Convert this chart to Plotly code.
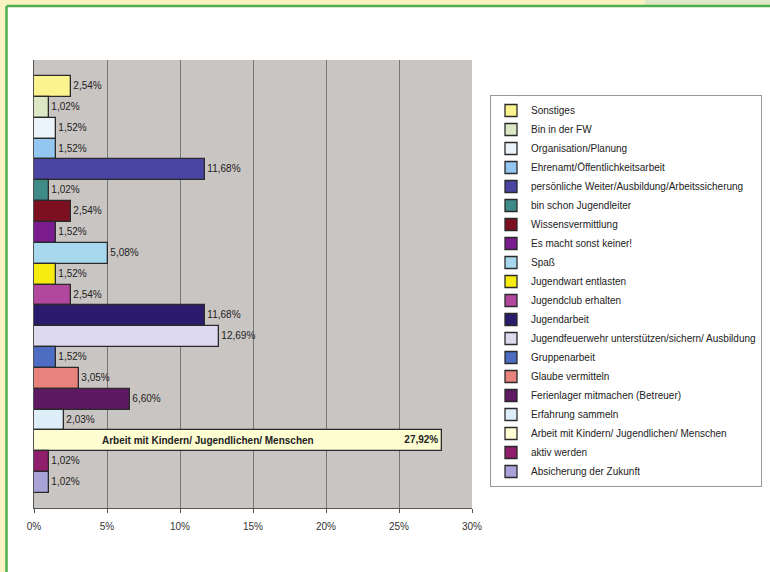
import plotly.graph_objects as go

categories = [
    "Sonstiges", "Bin in der FW", "Organisation/Planung",
    "Ehrenamt/Öffentlichkeitsarbeit",
    "persönliche Weiter/Ausbildung/Arbeitssicherung",
    "bin schon Jugendleiter", "Wissensvermittlung", "Es macht sonst keiner!",
    "Spaß", "Jugendwart entlasten", "Jugendclub erhalten", "Jugendarbeit",
    "Jugendfeuerwehr unterstützen/sichern/ Ausbildung", "Gruppenarbeit",
    "Glaube vermitteln", "Ferienlager mitmachen (Betreuer)", "Erfahrung sammeln",
    "Arbeit mit Kindern/ Jugendlichen/ Menschen", "aktiv werden",
    "Absicherung der Zukunft",
]
values = [2.54, 1.02, 1.52, 1.52, 11.68, 1.02, 2.54, 1.52, 5.08, 1.52,
          2.54, 11.68, 12.69, 1.52, 3.05, 6.60, 2.03, 27.92, 1.02, 1.02]
colors = ["#FBF48E", "#DCE8C4", "#EAF2FA", "#93C6F0", "#4A45A2", "#3F8B88",
          "#7C1020", "#7A1B8E", "#A8D8EE", "#F6EC12", "#B2479E", "#2B1B6C",
          "#DDDAF0", "#4E6CC2", "#E8827C", "#5D1A62", "#DEEEF9", "#FFFDD2",
          "#8F1E6C", "#A9A2D8"]
highlight = "Arbeit mit Kindern/ Jugendlichen/ Menschen"

W, H = 770, 572
L, R, T, B = 34, 472, 60, 508
FONT = "Liberation Sans, Arial, sans-serif"


def px(x):
    return (x - L) / (R - L)


def py(y):
    return (B - y) / (B - T)


n = len(categories)
fig = go.Figure()
for i, (cat, val, col) in enumerate(zip(categories, values, colors)):
    lab = f"{val:.2f}%".replace(".", ",")
    big = cat == highlight
    fig.add_trace(go.Bar(
        x=[val], y=[n - 1 - i], orientation="h", name=cat, width=1,
        marker=dict(color=col, line=dict(color="#2a2a2a", width=1.3)),
        text=[f"<b>{lab}</b>" if big else lab],
        textposition="inside" if big else "outside",
        insidetextanchor="end",
        textfont=dict(family=FONT, size=10, color="#222222"),
        cliponaxis=False, hoverinfo="skip",
    ))
    if big:
        fig.add_annotation(x=4.5, y=n - 1 - i, xref="x", yref="y",
                           text=f"<b>{cat}</b>", showarrow=False,
                           xanchor="left",
                           font=dict(family=FONT, size=10, color="#222222"))

shapes = [
    dict(type="rect", xref="paper", yref="paper", x0=px(0), x1=px(W),
         y0=py(5), y1=py(0), fillcolor="#FBF2C2", line_width=0, layer="above"),
    dict(type="rect", xref="paper", yref="paper", x0=px(645), x1=px(W),
         y0=py(5), y1=py(0), fillcolor="#DDE9C6", line_width=0, layer="above"),
    dict(type="rect", xref="paper", yref="paper", x0=px(0), x1=px(5.5),
         y0=py(H), y1=py(0), fillcolor="#FBF2C2", line_width=0, layer="above"),
    dict(type="line", xref="paper", yref="paper", x0=px(6.5), x1=px(W),
         y0=py(6), y1=py(6), line=dict(color="#4DAE4B", width=2.5)),
    dict(type="line", xref="paper", yref="paper", x0=px(6.5), x1=px(6.5),
         y0=py(H), y1=py(6), line=dict(color="#4DAE4B", width=2.5)),
]

fig.update_layout(
    width=W, height=H,
    margin=dict(l=L, r=W - R, t=T, b=H - B, autoexpand=False),
    paper_bgcolor="white", plot_bgcolor="#C9C5C3",
    barmode="overlay", bargap=0,
    font=dict(family=FONT, size=10, color="#333333"),
    xaxis=dict(range=[0, 30], dtick=5, ticksuffix="%", showgrid=True,
               gridcolor="#767676", gridwidth=1, showline=True,
               linecolor="#555555", ticks="outside", ticklen=4,
               tickcolor="#555555", zeroline=False, fixedrange=True,
               ticklabelstandoff=5,
               tickfont=dict(size=10, color="#333333")),
    yaxis=dict(range=[-1.22, 20.27], showticklabels=False, showgrid=False,
               zeroline=False, showline=True, linecolor="#555555",
               fixedrange=True),
    legend=dict(x=px(490), y=py(95), xanchor="left", yanchor="top",
                bgcolor="white", bordercolor="#9a9a9a", borderwidth=1,
                font=dict(family=FONT, size=10, color="#222222"),
                traceorder="normal", itemwidth=30),
    shapes=shapes,
    showlegend=True,
)

fig.write_html("out.html", config={"displayModeBar": False},
               post_script="document.body.style.margin='0';")
